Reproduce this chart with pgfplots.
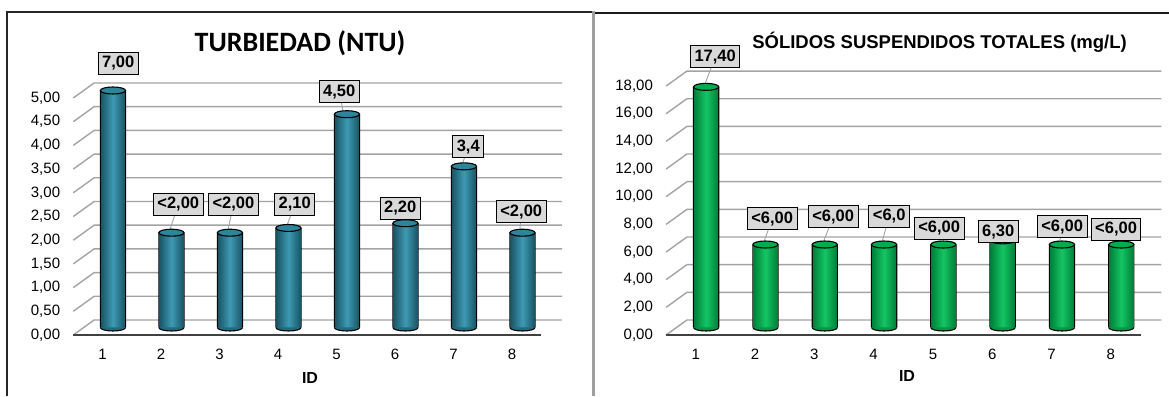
\documentclass[border=0pt]{standalone}
\usepackage{fontspec}
\setmainfont{Liberation Sans}
\newfontfamily\calibri{Carlito}
\usepackage{pgfplots}
\usepackage{pgfplotstable}
\pgfplotsset{compat=1.18}

\definecolor{tealD}{HTML}{1A5566}
\definecolor{tealL}{HTML}{3E9AB3}
\definecolor{tealC}{HTML}{2E8499}
\definecolor{tealB}{HTML}{226A7D}
\definecolor{grnD}{HTML}{00803A}
\definecolor{grnL}{HTML}{14C563}
\definecolor{grnC}{HTML}{00AC4E}
\definecolor{grnB}{HTML}{009645}
\definecolor{gridgray}{HTML}{A3A3A3}
\definecolor{labfill}{HTML}{D9D9D9}

% cylinder lid and the lower rim of the base
\pgfdeclareplotmark{cyltop}{%
  \pgfpathellipse{\pgfpointorigin}{\pgfqpoint{12.6pt}{0pt}}{\pgfqpoint{0pt}{3.5pt}}%
  \pgfusepathqfillstroke}
\pgfdeclareplotmark{cylbot}{%
  \pgfpathmoveto{\pgfqpoint{-12.6pt}{0pt}}%
  \pgfpatharc{180}{360}{12.6pt and 3.5pt}%
  \pgfusepathqfillstroke}

% id: sample, val: value, lx/ly: position of the value box, lab: printed value
\pgfplotstableread{
id val  lx    ly    lab
1  7.00 1.090 5.58  7,00
2  2.00 2.116 2.595 <2,00
3  2.00 3.060 2.595 <2,00
4  2.10 4.108 2.595 2,10
5  4.50 4.868 4.97  4,50
6  2.20 5.911 2.52  2,20
7  3.40 7.073 3.81  3,4
8  2.00 7.979 2.44  <2,00
}\turb

\pgfplotstableread{
id val   lx    ly    lab
1  17.40 1.152 19.56 17,40
2  6.00  2.113 7.85  <6,00
3  6.00  3.142 7.99  <6,00
4  6.00  4.086 8.06  <6,0
5  6.00  4.929 7.19  <6,00
6  6.30  5.924 6.91  6,30
7  6.00  7.003 7.27  <6,00
8  6.00  7.913 7.12  <6,00
}\sst

\tikzset{
  backwall/.style={gridgray, line width=1.4pt},
  floorline/.style={black!75, line width=1.8pt},
}

\pgfplotsset{
  cylpanel/.style={
    enlargelimits=false, clip=false,
    xmin=0.5, xmax=8.5, ymin=0,
    axis line style={draw=none},
    major tick length=0pt,
    xtick={1,...,8}, xticklabels={1,2,3,4,5,6,7,8},
    tick label style={font=\fontsize{15}{15}\selectfont, text=black},
    xticklabel style={anchor=north, inner sep=0pt, xshift=-10.4pt, yshift=-21pt},
    yticklabel style={anchor=east, inner sep=0pt, xshift=-23.4pt, yshift=-7.5pt},
    /pgf/number format/fixed,
    /pgf/number format/fixed zerofill,
    /pgf/number format/precision=2,
    /pgf/number format/use comma,
    /pgf/number format/assume math mode=true,
    xlabel={ID},
    xlabel style={font=\bfseries\fontsize{16}{16}\selectfont, at={(axis description cs:0.5,0)}, anchor=center},
    title style={at={(axis description cs:0.5,1)}, anchor=center},
  },
  valbox/.style={
    draw=none, mark=none,
    nodes near coords, point meta=explicit symbolic,
    nodes near coords style={anchor=center, fill=labfill, draw=black, line width=1pt,
      inner xsep=4pt, inner ysep=4pt, text height=11.5pt, text depth=2.5pt,
      font=\bfseries\fontsize{16.5}{16.5}\selectfont, text=black},
  },
  leader/.style={gridgray, line width=0.9pt, unbounded coords=jump, mark=none},
}

\begin{document}
\begin{tikzpicture}
\useasboundingbox (0,0) rectangle (1169pt,396pt);

% panel frames
\draw[black!85, line width=1.3pt] (7pt,0pt) -- (7pt,384pt) -- (592pt,384pt);
\draw[black!90, line width=1.8pt] (593pt,383pt) -- (1169pt,383pt);
\draw[gray!75, line width=3pt] (593.5pt,0pt) -- (593.5pt,384.5pt);

%---------------------------------------------------------------- turbidity
\begin{axis}[cylpanel,
  at={(83.7pt,68.5pt)}, anchor=south west,
  x=58.5pt, y=47.4pt, ymax=5,
  ytick={0,0.5,...,5},
  title={TURBIEDAD (NTU)},
  title style={font=\calibri\bfseries\fontsize{28}{28}\selectfont, xshift=-17.7pt, yshift=41.5pt},
  xlabel style={xshift=-7.7pt, yshift=-50.5pt},
]
\pgfplotsinvokeforeach{0,0.5,...,5}{
  \draw[backwall]
    ([shift={(-10.4pt,-7.5pt)}]axis cs:0.5,#1) --
    ([shift={(10.4pt,7.5pt)}]axis cs:0.5,#1) --
    ([shift={(10.4pt,7.5pt)}]axis cs:8.5,#1);
}
\draw[floorline]
  ([shift={(-10.4pt,-7.5pt)}]axis cs:0.5,0) -- ([shift={(-10.4pt,-7.5pt)}]axis cs:8.5,0);

% cylinders: outline, shaded body (one per sample), base rim, lid;
% a value above the scale stops at its top
\addplot[ybar, bar width=26.4pt, bar shift=0pt, fill=black, draw=none,
  y filter/.expression={min(y,5)}] table[x=id, y=val]{\turb};
\pgfplotsinvokeforeach{1,...,8}{
  \addplot[ybar, bar width=24pt, bar shift=0pt, draw=none,
    left color=tealD, right color=tealD, middle color=tealL,
    restrict x to domain=#1:#1,
    y filter/.expression={min(y,5)}] table[x=id, y=val]{\turb};
}
\addplot[only marks, mark=cylbot, mark options={fill=tealB, draw=black, line width=1.1pt}]
  table[x=id, y expr=0]{\turb};
\addplot[only marks, mark=cyltop, mark options={fill=tealC, draw=black, line width=1.1pt},
  y filter/.expression={min(y,5)}] table[x=id, y=val]{\turb};

\addplot[leader] coordinates {
  (2.116,2.595) (1.95,1.97) (nan,nan)
  (3.060,2.595) (2.95,1.97) (nan,nan)
  (4.108,2.595) (3.95,2.07) (nan,nan)
  (4.868,4.97)  (4.95,4.47) (nan,nan)
  (5.911,2.52)  (5.95,2.17) (nan,nan)
  (7.073,3.81)  (6.95,3.37) (nan,nan)
  (7.979,2.44)  (7.95,1.97)
};
\addplot[valbox] table[x=lx, y=ly, meta=lab]{\turb};
\end{axis}

%---------------------------------------------------------------- suspended solids
\begin{axis}[cylpanel,
  at={(676.5pt,68.5pt)}, anchor=south west,
  x=59.3pt, y=13.83pt, ymax=18,
  ytick={0,2,...,18},
  title={SÓLIDOS SUSPENDIDOS TOTALES (mg/L)},
  title style={font=\bfseries\fontsize{18.5}{18.5}\selectfont, xshift=25.8pt, yshift=30.5pt},
  xlabel style={xshift=-6.7pt, yshift=-48.5pt},
]
\pgfplotsinvokeforeach{0,2,...,18}{
  \draw[backwall]
    ([shift={(-10.4pt,-7.5pt)}]axis cs:0.5,#1) --
    ([shift={(10.4pt,7.5pt)}]axis cs:0.5,#1) --
    ([shift={(10.4pt,7.5pt)}]axis cs:8.5,#1);
}
\draw[floorline]
  ([shift={(-10.4pt,-7.5pt)}]axis cs:0.5,0) -- ([shift={(-10.4pt,-7.5pt)}]axis cs:8.5,0);

\addplot[ybar, bar width=26.4pt, bar shift=0pt, fill=black, draw=none]
  table[x=id, y=val]{\sst};
\pgfplotsinvokeforeach{1,...,8}{
  \addplot[ybar, bar width=24pt, bar shift=0pt, draw=none,
    left color=grnD, right color=grnD, middle color=grnL,
    restrict x to domain=#1:#1] table[x=id, y=val]{\sst};
}
\addplot[only marks, mark=cylbot, mark options={fill=grnB, draw=black, line width=1.1pt}]
  table[x=id, y expr=0]{\sst};
\addplot[only marks, mark=cyltop, mark options={fill=grnC, draw=black, line width=1.1pt}]
  table[x=id, y=val]{\sst};

\addplot[leader] coordinates {
  (1.152,19.56) (0.95,17.25) (nan,nan)
  (2.113,7.85)  (1.95,5.9) (nan,nan)
  (3.142,7.99)  (2.95,5.9) (nan,nan)
  (4.086,8.06)  (3.95,5.9) (nan,nan)
  (4.929,7.19)  (4.97,5.9) (nan,nan)
  (7.003,7.27)  (6.95,5.9) (nan,nan)
  (7.913,7.12)  (7.93,5.9)
};
\addplot[valbox] table[x=lx, y=ly, meta=lab]{\sst};
\end{axis}
\end{tikzpicture}
\end{document}
